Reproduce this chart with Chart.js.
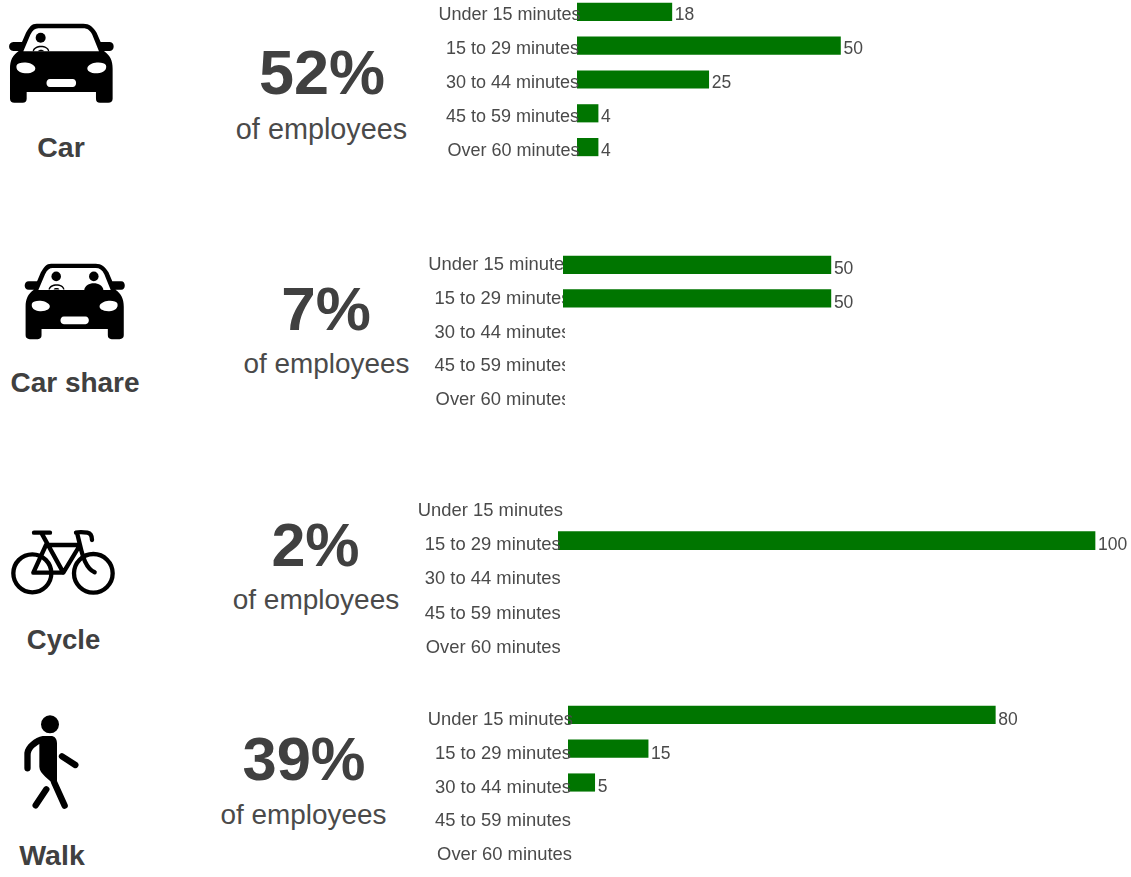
<!DOCTYPE html>
<html>
<head>
<meta charset="utf-8">
<title>Employee commute by mode</title>
<script src="https://cdn.jsdelivr.net/npm/chart.js@4/dist/chart.umd.min.js"></script>
<style>
  html, body { margin: 0; padding: 0; background: #fff; }
  body { position: relative; width: 1131px; height: 877px; overflow: hidden; font-family: "Liberation Sans", Arial, sans-serif; color: #404040; }
  .abs { position: absolute; white-space: nowrap; transform: translateX(-50%); }
  .mode { font-weight: bold; line-height: 30px; }
  .pct { font-weight: bold; line-height: 66px; }
  .sub { line-height: 30px; color: #4a4a4a; }
  canvas { position: absolute; }
  svg { position: absolute; overflow: visible; }
</style>
</head>
<body>
<svg width="0" height="0" style="left:0;top:0">
  <defs>
    <path id="carBody" fill-rule="evenodd" d="M110 70H250C268 70 280 80 290 97L302 125H330C345 125 345 152 330 152H312C330 165 338 180 338 205V295C338 303 333 307 325 307H300C292 307 288 303 288 295V275H80V295C80 303 76 307 68 307H43C35 307 30 303 30 295V205C30 180 38 165 56 152H40C23 152 23 125 40 125H66L78 97C88 80 95 70 110 70ZM115 84H250C262 84 270 90 277 103L297 153H70L91 103C98 90 105 84 115 84ZM50 195C55 183 95 183 105 200C110 212 95 220 75 219C58 219 46 208 50 195ZM318 195C313 183 273 183 263 200C258 212 273 220 293 219C310 219 322 208 318 195ZM150 236H218C232 236 232 260 218 260H150C136 260 136 236 150 236Z"/>
    <g id="driver">
      <circle r="15"/>
      <path d="M-24 41C-22 19 24 19 26 41H22C20 25 -16 25 -20 41Z"/>
      <path d="M-8 41C-6 35 8 35 10 41Z"/>
    </g>
  </defs>
</svg>

<!-- car -->
<svg style="left:9px;top:22.7px" width="105.3" height="80" viewBox="27 68 316 240"><use href="#carBody"/><use href="#driver" x="122" y="112"/></svg>
<div class="abs mode" style="left:61px;top:132px;font-size:28.5px">Car</div>
<div class="abs pct" style="left:322px;top:39px;font-size:63px">52%</div>
<div class="abs sub" style="left:321.5px;top:114px;font-size:28.8px">of employees</div>
<canvas id="c1"></canvas>

<!-- car share -->
<svg style="left:24px;top:262.7px" width="102" height="76.5" viewBox="27 68 316 240"><use href="#carBody"/><use href="#driver" x="126" y="110"/><circle cx="244" cy="110" r="15"/><path d="M214 153C216 124 272 124 274 153Z"/></svg>
<div class="abs mode" style="left:75px;top:368px;font-size:28px">Car share</div>
<div class="abs pct" style="left:326px;top:276px;font-size:62px">7%</div>
<div class="abs sub" style="left:326.5px;top:349px;font-size:27.9px">of employees</div>
<canvas id="c2"></canvas>

<!-- cycle -->
<svg style="left:0;top:510px" width="200" height="150" viewBox="0 0 600 450" fill="none" stroke="#000" stroke-width="13" stroke-linecap="round" stroke-linejoin="round">
  <circle cx="97" cy="190" r="57"/><circle cx="280" cy="190" r="58"/>
  <path d="M102 68H150M125 70L190 188M138 105H240L190 188H100L138 105M232 72L240 105C248 140 258 175 284 187M228 68C235 66 250 66 262 68C272 70 276 78 276 90"/>
</svg>
<div class="abs mode" style="left:63.5px;top:625px;font-size:27.5px">Cycle</div>
<div class="abs pct" style="left:315.5px;top:512px;font-size:61px">2%</div>
<div class="abs sub" style="left:316px;top:585px;font-size:28px">of employees</div>
<canvas id="c3"></canvas>

<!-- walk -->
<svg style="left:0;top:700px" width="200" height="177" viewBox="0 0 600 531">
  <circle cx="150" cy="73" r="27"/>
  <path d="M128 108H152C164 108 171 116 171 130V258L165 258C150 238 118 222 118 200V132C105 140 92 150 92 165V205C92 218 73 218 73 205V158C76 135 105 112 128 108Z"/>
  <g fill="none" stroke="#000" stroke-width="19" stroke-linecap="round">
    <path d="M162 246L194 317"/><path d="M139 268L107 316"/><path d="M186 169L226 195"/>
  </g>
</svg>
<div class="abs mode" style="left:52px;top:840px;font-size:28.5px">Walk</div>
<div class="abs pct" style="left:304px;top:726px;font-size:61.5px">39%</div>
<div class="abs sub" style="left:303.5px;top:800px;font-size:27.9px">of employees</div>
<canvas id="c4"></canvas>

<script>
const categories = ["Under 15 minutes", "15 to 29 minutes", "30 to 44 minutes", "45 to 59 minutes", "Over 60 minutes"];
const carValues = [18, 50, 25, 4, 4];
const carShareValues = [50, 50, null, null, null];
const cycleValues = [null, 100, null, null, null];
const walkValues = [80, 15, 5, null, null];

const BAR_GREEN = "#007500";
const TEXT_GREY = "#4a4a4a";
const FONT_FAMILY = '"Liberation Sans", Arial, sans-serif';

// Writes each non-empty value just past the end of its bar.
const valueLabels = {
  id: "valueLabels",
  afterDatasetsDraw(chart, args, opts) {
    const { ctx } = chart;
    ctx.save();
    ctx.font = "17.5px " + FONT_FAMILY;
    ctx.fillStyle = TEXT_GREY;
    ctx.textAlign = "left";
    ctx.textBaseline = "middle";
    chart.getDatasetMeta(0).data.forEach((bar, i) => {
      const v = chart.data.datasets[0].data[i];
      if (v != null) ctx.fillText(String(v), bar.x + 3, bar.y + opts.dy);
    });
    ctx.restore();
  }
};

// Per-row horizontal adjustment of the category labels, and optional trimming
// of whatever overruns the zero line of the plot.
const labelTweaks = {
  id: "labelTweaks",
  beforeDraw(chart, args, opts) {
    chart.scales.y.getLabelItems().forEach((item, i) => {
      if (!item.nudged) {
        item.options.translation[0] += opts.nudge[i];
        item.nudged = true;
      }
    });
  },
  beforeDatasetsDraw(chart, args, opts) {
    if (!opts.trim) return;
    const { ctx, chartArea } = chart;
    ctx.save();
    ctx.fillStyle = "#fff";
    ctx.fillRect(chartArea.left + 2, chartArea.top, 14, chartArea.bottom - chartArea.top);
    ctx.restore();
  }
};

function commuteChart(id, values, box) {
  const canvas = document.getElementById(id);
  canvas.style.left = box.left + "px";
  canvas.style.top = box.top + "px";
  canvas.width = box.width;
  canvas.height = box.height;
  canvas.style.width = box.width + "px";
  canvas.style.height = box.height + "px";
  return new Chart(canvas, {
    type: "bar",
    data: {
      labels: categories,
      datasets: [{
        data: values,
        backgroundColor: BAR_GREEN,
        borderWidth: 0,
        barThickness: box.bar
      }]
    },
    options: {
      indexAxis: "y",
      responsive: false,
      animation: false,
      plugins: {
        legend: { display: false },
        tooltip: { enabled: false },
        valueLabels: { dy: box.valueDy },
        labelTweaks: { nudge: box.nudge, trim: box.trim }
      },
      scales: {
        x: { display: false, min: 0, max: box.max },
        y: {
          afterFit(scale) {
            scale.width = box.axis;
            scale.paddingTop = 0;
            scale.paddingBottom = 0;
            // Labels may run past the zero line instead of being cut at the axis box.
            scale._computeLabelArea = () => undefined;
          },
          border: { display: false },
          grid: { display: false, drawTicks: false },
          ticks: {
            color: TEXT_GREY,
            font: { family: FONT_FAMILY, size: box.font },
            padding: box.pad,
            labelOffset: box.tickDy,
            autoSkip: false,
            z: box.trim ? 0 : 1
          }
        }
      }
    },
    plugins: [valueLabels, labelTweaks]
  });
}

// Each panel sits at its own offset; plot widths and axis ranges give about
// 5.3 pixels per percentage point.
commuteChart("c1", carValues, { left: 400, top: -5.2, width: 500, height: 169, axis: 177, max: 61.3, bar: 17.5, font: 18, pad: -2, tickDy: 3.6, valueDy: 3.6, nudge: [1.5, 0, 0, 0, 0.5], trim: false });
commuteChart("c2", carShareValues, { left: 400, top: 247.8, width: 500, height: 168, axis: 163, max: 62.9, bar: 17.5, font: 18.4, pad: -7.5, tickDy: 0.6, valueDy: 4.5, nudge: [3, 0, 0, 0, 0], trim: true });
commuteChart("c3", cycleValues, { left: 400, top: 488.6, width: 731, height: 172, axis: 158, max: 106.7, bar: 18, font: 18.4, pad: -2.7, tickDy: 4.3, valueDy: 5, nudge: [2.3, 0, 0, 0, 0], trim: false });
commuteChart("c4", walkValues, { left: 400, top: 698, width: 700, height: 169, axis: 168, max: 99.6, bar: 17.5, font: 18.4, pad: -3, tickDy: 5, valueDy: 5, nudge: [2, 0, 0, 0, 1], trim: false });
</script>
</body>
</html>
